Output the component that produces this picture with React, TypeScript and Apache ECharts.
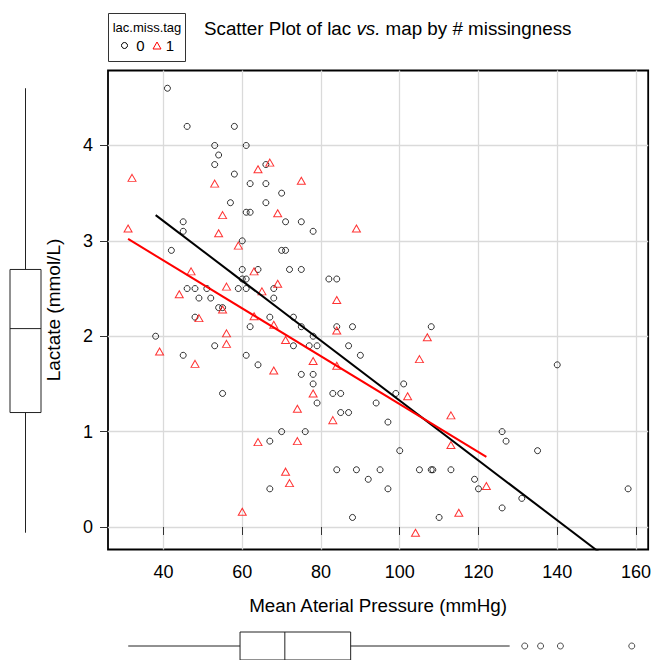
import React, { useEffect, useRef } from "react";
import * as echarts from "echarts";

// Group 0 (lac.miss.tag = 0): open black circles
const MAP_0 = [41, 46, 58, 53, 61, 54, 53, 58, 66, 62, 66, 57, 66, 61, 62, 45, 45, 60, 70, 71, 75, 78, 42, 60, 64, 60, 61, 46, 48, 51, 59, 61, 68, 49, 52, 68, 54, 55, 48, 67, 62, 38, 53, 45, 61, 64, 55, 70, 71, 72, 75, 82, 84, 73, 75, 84, 88, 108, 78, 73, 77, 79, 87, 90, 75, 78, 78, 101, 83, 85, 99, 140, 67, 67, 79, 85, 87, 94, 97, 70, 76, 100, 84, 89, 95, 92, 97, 105, 108, 108.4, 113, 88, 110, 126, 127, 135, 119, 120, 131, 126, 158];
const LAC_0 = [4.6, 4.2, 4.2, 4.0, 4.0, 3.9, 3.8, 3.7, 3.8, 3.6, 3.6, 3.4, 3.4, 3.3, 3.3, 3.2, 3.1, 3.0, 3.5, 3.2, 3.2, 3.1, 2.9, 2.7, 2.7, 2.6, 2.6, 2.5, 2.5, 2.5, 2.5, 2.5, 2.5, 2.4, 2.4, 2.4, 2.3, 2.3, 2.2, 2.2, 2.1, 2.0, 1.9, 1.8, 1.8, 1.7, 1.4, 2.9, 2.9, 2.7, 2.7, 2.6, 2.6, 2.2, 2.1, 2.1, 2.1, 2.1, 2.0, 1.9, 1.9, 1.9, 1.9, 1.8, 1.6, 1.6, 1.5, 1.5, 1.4, 1.4, 1.4, 1.7, 0.9, 0.4, 1.3, 1.2, 1.2, 1.3, 1.1, 1.0, 1.0, 0.8, 0.6, 0.6, 0.6, 0.5, 0.4, 0.6, 0.6, 0.6, 0.6, 0.1, 0.1, 1.0, 0.9, 0.8, 0.5, 0.4, 0.3, 0.2, 0.4];

// Group 1 (lac.miss.tag = 1): open red triangles
const MAP_1 = [32, 64, 67, 53, 55, 69, 31, 54, 75, 89, 59, 63, 47, 69, 56, 44, 65, 55, 49, 63, 68, 56, 56, 39, 48, 68, 84, 84, 71, 107, 78, 105, 84, 78, 102, 64, 60, 74, 83, 113, 74, 113, 71, 72, 115, 104, 122];
const LAC_1 = [3.66, 3.75, 3.82, 3.6, 3.27, 3.29, 3.13, 3.08, 3.63, 3.13, 2.95, 2.68, 2.68, 2.55, 2.52, 2.44, 2.47, 2.28, 2.19, 2.21, 2.12, 2.03, 1.92, 1.84, 1.71, 1.64, 2.38, 2.06, 1.96, 1.99, 1.74, 1.76, 1.69, 1.4, 1.37, 0.89, 0.16, 1.24, 1.12, 1.17, 0.9, 0.86, 0.58, 0.46, 0.15, -0.06, 0.43];

// Fitted lines
const FIT_0 = { intercept: 4.462, slope: -0.03137, from: 38, to: 158 };
const FIT_1 = { intercept: 3.798, slope: -0.0251, from: 31, to: 122 };

// Marginal boxplot statistics: [min, Q1, median, Q3, max]
const MAP_BOX = [31, 59.2, 70.5, 87.1, 127.2];
const MAP_OUTLIERS = [131, 135, 140, 158];
const LAC_BOX = [-0.06, 1.2, 2.08, 2.7, 4.6];

const X_TICKS = [40, 60, 80, 100, 120, 140, 160];
const Y_TICKS = [0, 1, 2, 3, 4];
const X_RANGE = [25.9, 163.1];
const Y_RANGE = [-0.236, 4.786];

const FONT = "'Liberation Sans', Arial, Helvetica, sans-serif";
const RED = "#ff0000";
const BOX_COLOR = "#222";

function fitLine(f: { intercept: number; slope: number; from: number; to: number }) {
  return [f.from, f.to].map((x) => [x, f.intercept + f.slope * x]);
}

function renderBoxH(params: any, api: any) {
  const v = [0, 1, 2, 3, 4].map((i) => api.value(i));
  const mid = api.coord([v[0], 0.5])[1];
  const top = api.coord([v[0], 1])[1];
  const bot = api.coord([v[0], 0])[1];
  const px = v.map((x) => api.coord([x, 0.5])[0]);
  const st = { stroke: BOX_COLOR, lineWidth: 1, fill: "none" };
  return {
    type: "group",
    children: [
      { type: "line", shape: { x1: px[0], y1: mid, x2: px[1], y2: mid }, style: st },
      { type: "line", shape: { x1: px[3], y1: mid, x2: px[4], y2: mid }, style: st },
      { type: "rect", shape: { x: px[1], y: top, width: px[3] - px[1], height: bot - top }, style: st },
      { type: "line", shape: { x1: px[2], y1: top, x2: px[2], y2: bot }, style: st },
    ],
  };
}

function renderBoxV(params: any, api: any) {
  const v = [0, 1, 2, 3, 4].map((i) => api.value(i));
  const mid = api.coord([0.5, v[0]])[0];
  const left = api.coord([0, v[0]])[0];
  const right = api.coord([1, v[0]])[0];
  const py = v.map((y) => api.coord([0.5, y])[1]);
  const st = { stroke: BOX_COLOR, lineWidth: 1, fill: "none" };
  return {
    type: "group",
    children: [
      { type: "line", shape: { x1: mid, y1: py[0], x2: mid, y2: py[1] }, style: st },
      { type: "line", shape: { x1: mid, y1: py[3], x2: mid, y2: py[4] }, style: st },
      { type: "rect", shape: { x: left, y: py[3], width: right - left, height: py[1] - py[3] }, style: st },
      { type: "line", shape: { x1: left, y1: py[2], x2: right, y2: py[2] }, style: st },
    ],
  };
}

export default function App() {
  const ref = useRef<HTMLDivElement>(null);
  useEffect(() => {
    if (!ref.current) return;
    const chart = echarts.init(ref.current, null, { renderer: "svg" });
    const tickStyle = { show: true, length: 8, inside: false, lineStyle: { color: "#333", width: 1 } };
    const option: any = {
      animation: false,
      backgroundColor: "#fff",
      title: {
        text: "{a|Scatter Plot of lac }{b|vs.}{a| map by # missingness}",
        left: 204,
        top: 19,
        padding: 0,
        textStyle: {
          rich: {
            a: { fontFamily: FONT, fontSize: 18.8, color: "#000", fontWeight: "normal" },
            b: { fontFamily: FONT, fontSize: 18.8, color: "#000", fontStyle: "italic", fontWeight: "normal" },
          },
        },
      },
      grid: [
        { left: 108, top: 70.5, width: 544, height: 479, show: true, borderColor: "#000", borderWidth: 1.8, backgroundColor: "transparent" },
        { left: 108, top: 632, width: 544, height: 32, show: false },
        { left: 10, top: 70.5, width: 31, height: 479, show: false },
      ],
      xAxis: [
        {
          gridIndex: 0,
          type: "value",
          min: X_RANGE[0],
          max: X_RANGE[1],
          name: "Mean Aterial Pressure (mmHg)",
          nameLocation: "middle",
          nameGap: 46,
          nameTextStyle: { fontFamily: FONT, fontSize: 18.8, color: "#000" },
          axisLine: { show: false },
          axisTick: { ...tickStyle, customValues: X_TICKS },
          axisLabel: { customValues: X_TICKS, margin: 13, fontFamily: FONT, fontSize: 18, color: "#000" },
          splitLine: { show: true, lineStyle: { color: "#dadada", width: 1.3 } },
        },
        { gridIndex: 1, type: "value", min: X_RANGE[0], max: X_RANGE[1], show: false },
        { gridIndex: 2, type: "value", min: 0, max: 1, show: false },
      ],
      yAxis: [
        {
          gridIndex: 0,
          type: "value",
          min: Y_RANGE[0],
          max: Y_RANGE[1],
          name: "Lactate (mmol/L)",
          nameLocation: "middle",
          nameGap: 45,
          nameTextStyle: { fontFamily: FONT, fontSize: 19, color: "#000" },
          axisLine: { show: false },
          axisTick: { ...tickStyle, customValues: Y_TICKS },
          axisLabel: { customValues: Y_TICKS, margin: 15, fontFamily: FONT, fontSize: 18, color: "#000" },
          splitLine: { show: true, lineStyle: { color: "#dadada", width: 1.3 } },
        },
        { gridIndex: 1, type: "value", min: 0, max: 1, show: false },
        { gridIndex: 2, type: "value", min: Y_RANGE[0], max: Y_RANGE[1], show: false },
      ],
      series: [
        {
          name: "0",
          type: "scatter",
          xAxisIndex: 0,
          yAxisIndex: 0,
          symbol: "circle",
          symbolSize: 6,
          itemStyle: { color: "transparent", borderColor: "#000", borderWidth: 1 },
          data: MAP_0.map((x, i) => [x, LAC_0[i]]),
          z: 3,
        },
        {
          name: "1",
          type: "scatter",
          xAxisIndex: 0,
          yAxisIndex: 0,
          symbol: "triangle",
          symbolSize: [8, 7],
          itemStyle: { color: "transparent", borderColor: RED, borderWidth: 1 },
          data: MAP_1.map((x, i) => [x, LAC_1[i]]),
          z: 3,
        },
        {
          name: "fit0",
          type: "line",
          xAxisIndex: 0,
          yAxisIndex: 0,
          data: fitLine(FIT_0),
          symbol: "none",
          clip: true,
          lineStyle: { color: "#000", width: 2 },
          z: 4,
        },
        {
          name: "fit1",
          type: "line",
          xAxisIndex: 0,
          yAxisIndex: 0,
          data: fitLine(FIT_1),
          symbol: "none",
          clip: true,
          lineStyle: { color: RED, width: 2 },
          z: 4,
        },
        {
          name: "mapBox",
          type: "custom",
          coordinateSystem: "cartesian2d",
          xAxisIndex: 1,
          yAxisIndex: 1,
          renderItem: renderBoxH,
          encode: { x: [0, 1, 2, 3, 4] },
          data: [MAP_BOX],
        },
        {
          name: "mapOutliers",
          type: "scatter",
          xAxisIndex: 1,
          yAxisIndex: 1,
          symbol: "circle",
          symbolSize: 6,
          itemStyle: { color: "transparent", borderColor: BOX_COLOR, borderWidth: 1 },
          data: MAP_OUTLIERS.map((x) => [x, 0.5]),
        },
        {
          name: "lacBox",
          type: "custom",
          coordinateSystem: "cartesian2d",
          xAxisIndex: 2,
          yAxisIndex: 2,
          renderItem: renderBoxV,
          encode: { y: [0, 1, 2, 3, 4] },
          data: [LAC_BOX],
        },
      ],
      graphic: [
        {
          type: "group",
          left: 108,
          top: 13,
          children: [
            { type: "rect", shape: { x: 0, y: 0, width: 77, height: 48 }, style: { fill: "#fff", stroke: "#333", lineWidth: 1 } },
            { type: "text", x: 38.5, y: 14, style: { text: "lac.miss.tag", font: `13px ${FONT}`, fill: "#000", align: "center", verticalAlign: "middle" } },
            { type: "circle", shape: { cx: 16, cy: 32, r: 3 }, style: { fill: "none", stroke: "#000", lineWidth: 1 } },
            { type: "text", x: 32, y: 32, style: { text: "0", font: `15px ${FONT}`, fill: "#000", align: "center", verticalAlign: "middle" } },
            { type: "polygon", shape: { points: [[44.5, 35.5], [52.5, 35.5], [48.5, 28.5]] }, style: { fill: "none", stroke: RED, lineWidth: 1 } },
            { type: "text", x: 61.5, y: 32, style: { text: "1", font: `15px ${FONT}`, fill: "#000", align: "center", verticalAlign: "middle" } },
          ],
        },
      ],
    };
    chart.setOption(option);
    return () => chart.dispose();
  }, []);
  return <div ref={ref} style={{ position: "fixed", left: 0, top: 0, width: 654, height: 660 }} />;
}
